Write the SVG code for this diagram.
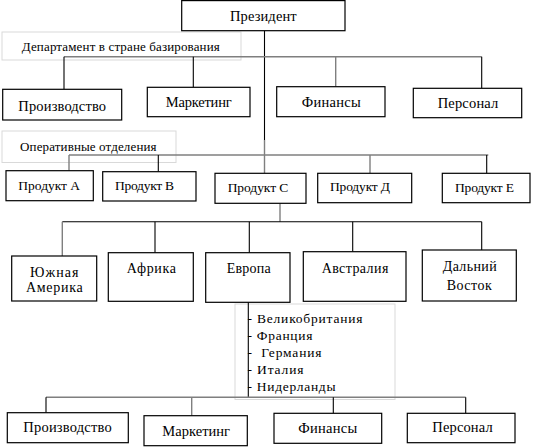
<svg xmlns="http://www.w3.org/2000/svg" width="541" height="448" viewBox="0 0 541 448">
<style>
  .box{fill:#fff;stroke:#000;stroke-width:1.2}
  .lbl{fill:none;stroke:#d9d9d9;stroke-width:1}
  .ln{stroke:#000;stroke-width:1.1;fill:none}
  .lg{stroke:#7f7f7f;stroke-width:1.4;fill:none}
  text{font-family:'Liberation Serif','DejaVu Serif',serif;fill:#000}
  .t15{font-size:14.5px;text-anchor:middle}
  .t14{font-size:14px;text-anchor:middle}
  .tp{font-size:13.5px;text-anchor:middle}
  .t13{font-size:13px;text-anchor:middle}
  .tl{font-size:13.5px;text-anchor:start}
</style>
<rect width="541" height="448" fill="#fff"/>
<g font-family="Liberation Serif, DejaVu Serif, serif">
<g id="label-dept">
  <rect class="lbl" x="2" y="32" width="239" height="28"/>
  <text class="t13" x="120.8" y="51" textLength="198" lengthAdjust="spacing">Департамент в стране базирования</text>
</g>
<g id="label-ops">
  <rect class="lbl" x="2" y="131" width="174" height="31.5"/>
  <text class="t13" x="88.3" y="151" textLength="136.5" lengthAdjust="spacing">Оперативные отделения</text>
</g>
<g id="label-countries">
  <rect class="lbl" x="235" y="304" width="160" height="95.5"/>
  <text class="tl" x="247.5" y="322.5" textLength="115" lengthAdjust="spacing">- Великобритания</text>
  <text class="tl" x="247.5" y="339.5" textLength="65" lengthAdjust="spacing">- Франция</text>
  <text class="tl" x="247.5" y="356.5" textLength="74" lengthAdjust="spacing" xml:space="preserve">-  Германия</text>
  <text class="tl" x="247.5" y="373.5" textLength="56" lengthAdjust="spacing">- Италия</text>
  <text class="tl" x="247.5" y="390.5" textLength="88" lengthAdjust="spacing">- Нидерланды</text>
</g>

<g id="connectors">
  <line class="ln" x1="264.5" y1="30.7" x2="264.5" y2="140"/>
  <line class="lg" x1="264.5" y1="140" x2="264.5" y2="173.3"/>
  <line class="lg" x1="64" y1="56.7" x2="481.7" y2="56.7"/>
  <line class="ln" x1="64" y1="56.7" x2="64" y2="89.3"/>
  <line class="ln" x1="193.3" y1="56.7" x2="193.3" y2="87.3"/>
  <line class="lg" x1="335.7" y1="56.7" x2="335.7" y2="86.7"/>
  <line class="ln" x1="481.7" y1="56.7" x2="481.7" y2="88.3"/>
  <line class="lg" x1="69" y1="155" x2="488.3" y2="155"/>
  <line class="lg" x1="69" y1="155" x2="69" y2="170.7"/>
  <line class="ln" x1="158.3" y1="155" x2="158.3" y2="171.7"/>
  <line class="lg" x1="370" y1="155" x2="370" y2="173.3"/>
  <line class="ln" x1="486.7" y1="155" x2="486.7" y2="173.3"/>
  <line class="lg" x1="280" y1="203.3" x2="280" y2="221.7"/>
  <line class="ln" x1="62.3" y1="221.7" x2="481.7" y2="221.7"/>
  <line class="lg" x1="62.3" y1="221.7" x2="62.3" y2="256"/>
  <line class="ln" x1="155" y1="221.7" x2="155" y2="252.7"/>
  <line class="ln" x1="249.3" y1="221.7" x2="249.3" y2="252.7"/>
  <line class="ln" x1="352.7" y1="221.7" x2="352.7" y2="251.7"/>
  <line class="ln" x1="481.7" y1="221.7" x2="481.7" y2="250"/>
  <line class="ln" x1="248.3" y1="302" x2="248.3" y2="397.3"/>
  <line class="lg" x1="46" y1="397.3" x2="465.7" y2="397.3"/>
  <line class="ln" x1="46" y1="397.3" x2="46" y2="412.7"/>
  <line class="lg" x1="191.7" y1="397.3" x2="191.7" y2="415.7"/>
  <line class="ln" x1="333.3" y1="397.3" x2="333.3" y2="413.3"/>
  <line class="ln" x1="465.7" y1="397.3" x2="465.7" y2="413.3"/>
</g>

<g id="president">
  <rect class="box" x="181.7" y="0.6" width="163.3" height="30.1"/>
  <text class="t15" x="263.3" y="21" textLength="66.7" lengthAdjust="spacing">Президент</text>
</g>

<g id="hq-production">
  <rect class="box" x="2.7" y="89.3" width="119" height="30.7"/>
  <text class="t15" x="62.2" y="111" textLength="87.7" lengthAdjust="spacing">Производство</text>
</g>
<g id="hq-marketing">
  <rect class="box" x="147.3" y="87.3" width="102.7" height="29.4"/>
  <text class="t15" x="198.7" y="106.7" textLength="66" lengthAdjust="spacing">Маркетинг</text>
</g>
<g id="hq-finance">
  <rect class="box" x="276.7" y="86.7" width="108.3" height="30"/>
  <text class="t15" x="331.2" y="107.3" textLength="59" lengthAdjust="spacing">Финансы</text>
</g>
<g id="hq-personnel">
  <rect class="box" x="413.3" y="88.3" width="108.4" height="29.4"/>
  <text class="t15" x="468" y="108.3" textLength="60.7" lengthAdjust="spacing">Персонал</text>
</g>

<g id="product-a">
  <rect class="box" x="6" y="170.7" width="87.3" height="30"/>
  <text class="tp" x="49.2" y="189.5" textLength="61.7" lengthAdjust="spacing">Продукт А</text>
</g>
<g id="product-b">
  <rect class="box" x="102.7" y="171.7" width="93.3" height="29.3"/>
  <text class="tp" x="144.5" y="190" textLength="59" lengthAdjust="spacing">Продукт В</text>
</g>
<g id="product-c">
  <rect class="box" x="215" y="173.3" width="91" height="30"/>
  <text class="tp" x="258" y="191.7" textLength="60.7" lengthAdjust="spacing">Продукт С</text>
</g>
<g id="product-d">
  <rect class="box" x="317.7" y="173.3" width="94" height="29.4"/>
  <text class="tp" x="360" y="191" textLength="60" lengthAdjust="spacing">Продукт Д</text>
</g>
<g id="product-e">
  <rect class="box" x="442.3" y="173.3" width="87.7" height="29.4"/>
  <text class="tp" x="484.5" y="191.7" textLength="59" lengthAdjust="spacing">Продукт Е</text>
</g>

<g id="region-south-america">
  <rect class="box" x="11.7" y="256" width="85" height="45"/>
  <text class="t14" x="54.2" y="276.7" textLength="48.3" lengthAdjust="spacing">Южная</text>
  <text class="t14" x="54.3" y="292" textLength="56.7" lengthAdjust="spacing">Америка</text>
</g>
<g id="region-africa">
  <rect class="box" x="108.3" y="252.7" width="85" height="48.6"/>
  <text class="t14" x="151.3" y="272.7" textLength="49.3" lengthAdjust="spacing">Африка</text>
</g>
<g id="region-europe">
  <rect class="box" x="205.7" y="252.7" width="84.3" height="49.6"/>
  <text class="t14" x="248.7" y="272.7" textLength="44" lengthAdjust="spacing">Европа</text>
</g>
<g id="region-australia">
  <rect class="box" x="303.3" y="251.7" width="102.7" height="49.6"/>
  <text class="t14" x="355" y="272.7" textLength="66.7" lengthAdjust="spacing">Австралия</text>
</g>
<g id="region-far-east">
  <rect class="box" x="422.3" y="250" width="94" height="51"/>
  <text class="t14" x="469.7" y="271" textLength="54" lengthAdjust="spacing">Дальний</text>
  <text class="t14" x="469.2" y="290" textLength="45" lengthAdjust="spacing">Восток</text>
</g>

<g id="eu-production">
  <rect class="box" x="7.3" y="412.7" width="121" height="30"/>
  <text class="t15" x="67.5" y="432.3" textLength="88.3" lengthAdjust="spacing">Производство</text>
</g>
<g id="eu-marketing">
  <rect class="box" x="144" y="415.7" width="103.3" height="30"/>
  <text class="t15" x="196.2" y="436" textLength="67.7" lengthAdjust="spacing">Маркетинг</text>
</g>
<g id="eu-finance">
  <rect class="box" x="274" y="413.3" width="107.7" height="30"/>
  <text class="t15" x="327.8" y="433.3" textLength="59" lengthAdjust="spacing">Финансы</text>
</g>
<g id="eu-personnel">
  <rect class="box" x="407.3" y="413.3" width="107.7" height="29.4"/>
  <text class="t15" x="462.5" y="432.3" textLength="60.3" lengthAdjust="spacing">Персонал</text>
</g>
</g>
</svg>
